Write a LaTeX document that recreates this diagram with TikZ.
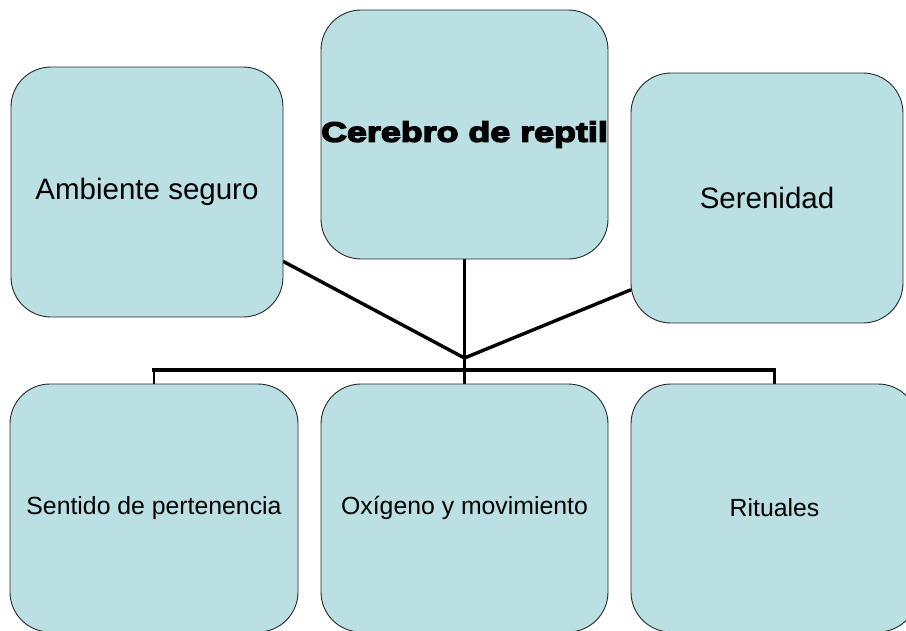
\documentclass[tikz,border=0pt]{standalone}
\usepackage{fontspec}
\setmainfont{Liberation Sans}
\newfontfamily\heavyfont{Liberation Sans}[UprightFont={* Bold},FakeBold=5,FakeStretch=1.28]
\usetikzlibrary{backgrounds}
\definecolor{boxfill}{RGB}{186,224,227}
\definecolor{boxline}{RGB}{40,40,40}
\begin{document}
\begin{tikzpicture}[x=1pt,y=-1pt,
  box/.style={draw=boxline,line width=0.9pt,fill=boxfill,rounded corners=40pt,
    inner sep=0pt,outer sep=0pt,align=center,text=black},
  bigtext/.style={font=\fontsize{29.5}{34}\selectfont},
  smalltext/.style={font=\fontsize{24.8}{29}\selectfont},
  link/.style={line width=3.4pt,black},
  drop/.style={line width=2.2pt,black}]
\useasboundingbox (0,0) rectangle (906,630);
\clip (0,0) rectangle (906,630);
\node[box,bigtext,minimum width=272pt,minimum height=250pt] (amb) at (147,192) {Ambiente seguro};
\node[box,minimum width=287pt,minimum height=249pt] (cer) at (464.5,134.5) {\heavyfont\fontsize{28}{32}\selectfont Cerebro de reptil};
\node[box,bigtext,minimum width=272pt,minimum height=250pt] (ser) at (767,198) {Serenidad};
\node[box,smalltext,minimum width=288pt,minimum height=248pt] (bl) at (154,508) {\raisebox{-3pt}{Sentido de pertenencia}};
\node[box,smalltext,minimum width=287pt,minimum height=248pt] (bm) at (464.5,508) {\raisebox{-3pt}{Oxígeno y movimiento}};
\node[box,smalltext,minimum width=287pt,minimum height=248pt] (br) at (774.5,508) {\raisebox{-3pt}{Rituales}};
\begin{scope}[on background layer]
\coordinate (hub) at (464.5,358);
\coordinate (bar) at (464.5,370);
\draw[link] (amb.-27.9) -- (hub);
\draw[link] (ser.214.6) -- (hub);
\draw[link] (cer.south) -- (bar);
\draw[link,line cap=rect] (bl.north |- bar) -- (br.north |- bar);
\draw[drop] (bl.north |- bar) -- (bl.north);
\draw[drop] (bar) -- (bm.north);
\draw[drop] (br.north |- bar) -- (br.north);
\end{scope}
\end{tikzpicture}
\end{document}
